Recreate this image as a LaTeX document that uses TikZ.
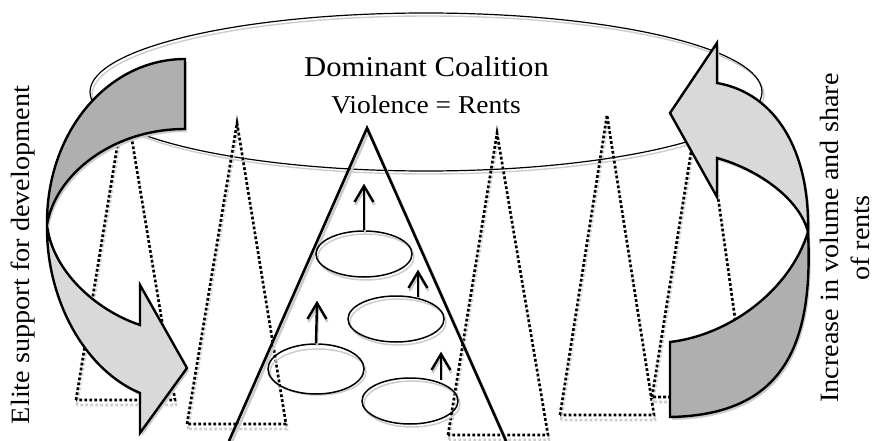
\documentclass[tikz,border=0pt]{standalone}
\usepackage{fontspec}
\setmainfont[FakeStretch=1.07]{Liberation Serif}
\usetikzlibrary{shapes.geometric}

\definecolor{shadowgray}{gray}{0.80}
\definecolor{backgray}{HTML}{AFAFAF}
\definecolor{frontgray}{HTML}{D9D9D9}

% outlines of the two curved arrows (back band and front band with head)
\newcommand\pathLB{(185,59) .. controls (108,59) and (46,132) .. (47,225)
  .. controls (55,175) and (112,129) .. (185,129) -- cycle}
\newcommand\pathLF{(47,225) .. controls (46,300) and (85,370) .. (140,393)
  -- (140,433) -- (187,368) -- (140,285) -- (140,325)
  .. controls (95,310) and (52,270) .. (47,225) -- cycle}
\newcommand\pathRB{(808,232) .. controls (814,350) and (780,415) .. (670,417)
  -- (670,342) .. controls (730,335) and (790,290) .. (808,232) -- cycle}
\newcommand\pathRF{(808,232) .. controls (810,150) and (775,93) .. (717,83)
  -- (717,43) -- (670,113) -- (717,197) -- (717,158)
  .. controls (760,170) and (800,200) .. (808,232) -- cycle}

\tikzset{
  ring/.style={line width=1.2pt},
  dottri/.style={line width=2.6pt, dash pattern=on 2.8pt off 2.2pt},
  group/.style={ellipse, draw, line width=1.5pt, minimum width=96pt,
    minimum height=46pt, inner sep=0pt},
  groupshadow/.style={ellipse, draw=shadowgray, line width=1.5pt,
    minimum width=96pt, minimum height=46pt, inner sep=0pt},
  rise/.style={line width=2.4pt},
  risehead/.style={line width=2.4pt, line join=miter, line cap=butt},
  band/.style={draw, line width=2.4pt, line join=miter},
  bigtext/.style={font=\fontsize{28.7}{34}\selectfont, inner sep=0pt},
  midtext/.style={font=\fontsize{25.7}{30}\selectfont, inner sep=0pt},
  sidetext/.style={font=\fontsize{26.4}{31}\selectfont, inner sep=0pt,
    align=center, rotate=90}
}

\begin{document}
\begin{tikzpicture}[x=1pt, y=-1pt]
\useasboundingbox (0,0) rectangle (876,441);

% coalition ring
\draw[shadowgray, line width=1.4pt] (428,95) ellipse [x radius=336, y radius=79];
\draw[ring] (426,92) ellipse [x radius=336, y radius=79];

% dotted organisation triangles
\foreach \ax/\ay/\bl/\br/\by in {125/98/76/175/400, 237/123/187/286/424,
    497/133/448/548/435, 607/115/560/654/415, 702/83/652/746/397} {
  \draw[dottri, shadowgray] (\bl+1,\by+5) -- (\ax+1,\ay+5) -- (\br+1,\by+5) -- cycle;
  \draw[dottri] (\bl,\by) -- (\ax,\ay) -- (\br,\by) -- cycle;
}

% central organisation
\draw[shadowgray, line width=2.6pt] (231,444) -- (369,131) -- (508,444);
\draw[line width=2.6pt] (229,441) -- (367,128) -- (506,441);

% groups inside the central organisation
\node[groupshadow] at (366,257) {};
\node[groupshadow] at (398,322) {};
\node[groupshadow] at (318,372) {};
\node[groupshadow] at (412,404) {};
\node[group] (e1) at (364,254) {};
\node[group] (e2) at (396,319) {};
\node[group, minimum height=50pt] (e3) at (316,369) {};
\node[group] (e4) at (410,401) {};

\coordinate (t1) at (364,186);
\coordinate (t2) at (418,272);
\coordinate (t3) at (317,303);
\coordinate (t4) at (441,354);

% rising arrows: shadows first
\foreach \t/\s in {t1/e1.north, t2/e2.north -| t2, t3/e3.north, t4/e4.north -| t4} {
  \draw[rise, shadowgray] ([shift={(1,3)}]\s) -- ([shift={(1,3)}]\t);
  \draw[risehead, shadowgray] ([shift={(-8.5,19)}]\t) -- ([shift={(1,3)}]\t) -- ([shift={(10.5,19)}]\t);
}
\draw[rise] (e1.north) -- (t1);
\draw[rise] ([yshift=-2pt]e2.north -| t2) -- (t2);
\draw[rise] (e3.north) -- (t3);
\draw[rise] ([yshift=-3pt]e4.north -| t4) -- (t4);
\foreach \t in {t1,t2,t3,t4} {
  \draw[risehead] ([shift={(-9.5,16)}]\t) -- (\t) -- ([shift={(9.5,16)}]\t);
}

% curved arrows
\fill[shadowgray, shift={(2,3)}] \pathLB;
\fill[shadowgray, shift={(2,3)}] \pathLF;
\fill[shadowgray, shift={(2,3)}] \pathRB;
\fill[shadowgray, shift={(2,3)}] \pathRF;
\filldraw[band, fill=backgray] \pathLB;
\filldraw[band, fill=frontgray] \pathLF;
\filldraw[band, fill=backgray] \pathRB;
\filldraw[band, fill=frontgray] \pathRF;

% labels
\node[bigtext, anchor=base] (coalition) at (426.5,77) {Dominant Coalition};
\node[midtext, anchor=base] (violence) at (426,114) {Violence = Rents};
\node[sidetext] (elite) at (23,255) {Elite support for development};
\node[sidetext] (rents) at (845,238) {Increase in volume and share\\of rents};
\end{tikzpicture}
\end{document}
